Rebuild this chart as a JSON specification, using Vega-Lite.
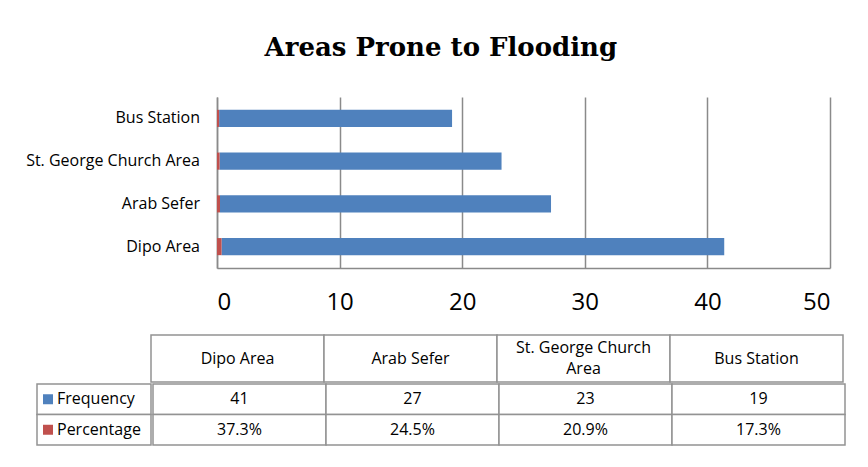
{
  "$schema": "https://vega.github.io/schema/vega-lite/v6.json",
  "padding": {"left": 22, "top": 35, "right": 10, "bottom": 5},
  "background": "white",
  "datasets": {
    "areas": [
      {"area": "Dipo Area", "Frequency": 41, "Percentage": 0.373},
      {"area": "Arab Sefer", "Frequency": 27, "Percentage": 0.245},
      {"area": "St. George Church Area", "Frequency": 23, "Percentage": 0.209},
      {"area": "Bus Station", "Frequency": 19, "Percentage": 0.173}
    ]
  },
  "title": {
    "text": "Areas Prone to Flooding",
    "font": "DejaVu Serif",
    "fontSize": 26,
    "fontWeight": "bold",
    "color": "#000000",
    "anchor": "middle",
    "dx": 7,
    "offset": 36
  },
  "config": {
    "font": "Open Sans",
    "view": {"stroke": null}
  },
  "spacing": 20,
  "align": "none",
  "vconcat": [
    {
      "spacing": 0,
      "align": "none",
      "hconcat": [
        {
          "width": 195,
          "height": 171,
          "data": {"name": "areas"},
          "mark": {"type": "text", "fontSize": 16, "align": "right", "baseline": "middle", "dx": -17, "color": "#000000"},
          "encoding": {
            "y": {
              "field": "area",
              "type": "nominal",
              "sort": ["Bus Station", "St. George Church Area", "Arab Sefer", "Dipo Area"],
              "scale": {"paddingInner": 0.6, "paddingOuter": 0.3},
              "axis": null
            },
            "x": {"value": "width"},
            "text": {"field": "area"}
          }
        },
        {
          "width": 613,
          "height": 171,
          "data": {"name": "areas"},
          "transform": [{"fold": ["Frequency", "Percentage"], "as": ["series", "value"]}],
          "mark": {"type": "bar"},
          "encoding": {
            "y": {
              "field": "area",
              "type": "nominal",
              "sort": ["Bus Station", "St. George Church Area", "Arab Sefer", "Dipo Area"],
              "scale": {"paddingInner": 0.6, "paddingOuter": 0.3},
              "axis": {
                "title": null,
                "ticks": false,
                "labels": false,
                "domainColor": "#8a8a8a",
                "domainWidth": 1.5
              }
            },
            "x": {
              "field": "value",
              "type": "quantitative",
              "stack": "zero",
              "scale": {"domain": [0, 50], "nice": false},
              "axis": {
                "title": null,
                "values": [0, 10, 20, 30, 40, 50],
                "ticks": false,
                "tickSize": 0,
                "labelPadding": 22,
                "labelFontSize": 24,
                "labelColor": "#000000",
                "grid": true,
                "gridColor": "#8a8a8a",
                "gridWidth": 1.5,
                "domainColor": "#8a8a8a",
                "domainWidth": 1.5
              }
            },
            "color": {
              "field": "series",
              "type": "nominal",
              "scale": {"domain": ["Frequency", "Percentage"], "range": ["#4F81BD", "#C0504D"]},
              "legend": null
            },
            "order": {"field": "series", "sort": "descending"}
          }
        }
      ]
    },
    {
      "spacing": 0,
      "align": "none",
      "vconcat": [
        {
          "spacing": 0,
          "align": "none",
          "hconcat": [
            {
              "width": 128,
              "height": 47,
              "data": {"values": []},
              "mark": "rect",
              "encoding": {}
            },
            {
              "width": 692,
              "height": 47,
              "data": {"name": "areas"},
              "transform": [{"calculate": "replace(datum.area, 'Church ', 'Church\\n')", "as": "header"}],
              "encoding": {
                "x": {
                  "field": "area",
                  "type": "nominal",
                  "sort": ["Dipo Area", "Arab Sefer", "St. George Church Area", "Bus Station"],
                  "scale": {"paddingInner": 0, "paddingOuter": 0},
                  "axis": null
                }
              },
              "layer": [
                {
                  "mark": {"type": "rect", "fill": "white", "stroke": "#939393", "strokeWidth": 1.5},
                  "encoding": {"y": {"value": 0}, "y2": {"value": "height"}}
                },
                {
                  "transform": [{"filter": "indexof(datum.header, '\\n') < 0"}],
                  "mark": {"type": "text", "fontSize": 16, "baseline": "middle", "color": "#000000"},
                  "encoding": {"text": {"field": "header"}, "y": {"value": 23.5}}
                },
                {
                  "transform": [{"filter": "indexof(datum.header, '\\n') >= 0"}],
                  "mark": {"type": "text", "fontSize": 16, "lineBreak": "\n", "lineHeight": 21, "baseline": "middle", "dy": -10.5, "color": "#000000"},
                  "encoding": {"text": {"field": "header"}, "y": {"value": 23.5}}
                }
              ]
            }
          ]
        },
        {
          "spacing": 0,
          "align": "none",
          "hconcat": [
            {
              "width": 14,
              "height": 61,
              "data": {"values": []},
              "mark": "rect",
              "encoding": {}
            },
            {
              "width": 114,
              "height": 61,
              "data": {"name": "areas"},
              "transform": [
                {"filter": "datum.area == 'Dipo Area'"},
                {"fold": ["Frequency", "Percentage"], "as": ["series", "value"]}
              ],
              "encoding": {
                "y": {
                  "field": "series",
                  "type": "nominal",
                  "scale": {"domain": ["Frequency", "Percentage"], "paddingInner": 0, "paddingOuter": 0},
                  "axis": null
                }
              },
              "layer": [
                {
                  "mark": {"type": "rect", "fill": "white", "stroke": "#939393", "strokeWidth": 1.5},
                  "encoding": {"x": {"value": 0}, "x2": {"value": "width"}}
                },
                {
                  "mark": {"type": "square", "size": 100, "opacity": 1, "filled": true},
                  "encoding": {
                    "x": {"value": 11},
                    "color": {
                      "field": "series",
                      "type": "nominal",
                      "scale": {"domain": ["Frequency", "Percentage"], "range": ["#4F81BD", "#C0504D"]},
                      "legend": null
                    }
                  }
                },
                {
                  "mark": {"type": "text", "fontSize": 16, "align": "left", "baseline": "middle", "color": "#000000"},
                  "encoding": {"x": {"value": 20}, "text": {"field": "series"}}
                }
              ]
            },
            {
              "width": 692,
              "height": 61,
              "data": {"name": "areas"},
              "transform": [{"fold": ["Frequency", "Percentage"], "as": ["series", "value"]}],
              "encoding": {
                "x": {
                  "field": "area",
                  "type": "nominal",
                  "sort": ["Dipo Area", "Arab Sefer", "St. George Church Area", "Bus Station"],
                  "scale": {"paddingInner": 0, "paddingOuter": 0},
                  "axis": null
                },
                "y": {
                  "field": "series",
                  "type": "nominal",
                  "scale": {"domain": ["Frequency", "Percentage"], "paddingInner": 0, "paddingOuter": 0},
                  "axis": null
                }
              },
              "layer": [
                {
                  "mark": {"type": "rect", "fill": "white", "stroke": "#939393", "strokeWidth": 1.5}
                },
                {
                  "transform": [{"filter": "datum.series == 'Frequency'"}],
                  "mark": {"type": "text", "fontSize": 16, "baseline": "middle", "color": "#000000"},
                  "encoding": {"text": {"field": "value", "type": "quantitative", "format": "d"}}
                },
                {
                  "transform": [{"filter": "datum.series == 'Percentage'"}],
                  "mark": {"type": "text", "fontSize": 16, "baseline": "middle", "color": "#000000"},
                  "encoding": {"text": {"field": "value", "type": "quantitative", "format": ".1%"}}
                }
              ]
            }
          ]
        }
      ]
    }
  ]
}
